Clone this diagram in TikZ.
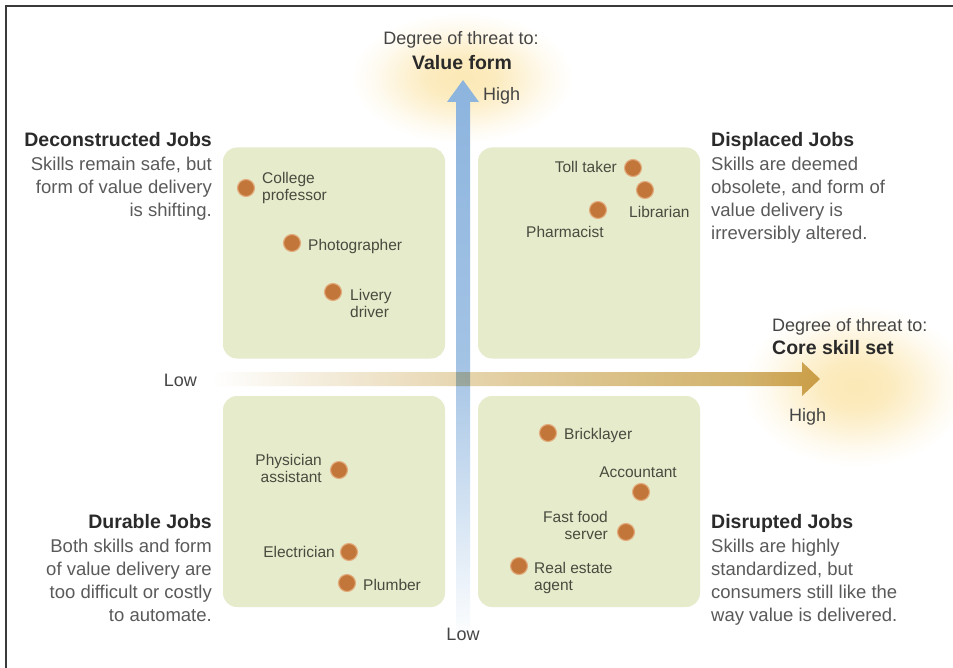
\documentclass[tikz,border=0pt]{standalone}
\usepackage{fontspec}
\setmainfont{Liberation Sans}
\usetikzlibrary{calc}

\definecolor{boxgreen}{HTML}{E6EBCC}
\definecolor{dotbrown}{HTML}{C3763A}
\definecolor{dotrim}{HTML}{E2AC7C}
\definecolor{axisblue}{HTML}{8CB4DE}
\definecolor{axistan}{HTML}{CDAA5C}
\definecolor{glowyellow}{HTML}{FBE6AE}
\definecolor{headtext}{HTML}{2A2A2A}
\definecolor{bodytext}{HTML}{5A5A5A}
\definecolor{axistext}{HTML}{454545}
\definecolor{jobtext}{HTML}{4A4A3E}
\definecolor{framegray}{HTML}{3A3A3A}

% soft radial glow; the filled path covers the inner 25bp radius
\pgfdeclareradialshading{softglow}{\pgfpoint{0bp}{0bp}}{%
  color(0bp)=(glowyellow!90!white);
  color(7bp)=(glowyellow!80!white);
  color(13bp)=(glowyellow!50!white);
  color(19bp)=(glowyellow!18!white);
  color(24bp)=(white);
  color(50bp)=(white)}

\begin{document}
\begin{tikzpicture}[x=1pt, y=-1pt,
  quadbox/.style={fill=boxgreen, rounded corners=14pt, inner sep=0pt,
                  minimum width=222pt, minimum height=211pt},
  jobdot/.style={circle, fill=dotbrown, draw=dotrim, line width=1.1pt,
                 minimum size=17pt, inner sep=0pt},
  joblabel/.style={font=\fontsize{15.5}{17}\selectfont, text=jobtext, inner sep=0pt},
  quadtitle/.style={font=\fontsize{19.5}{23}\bfseries\selectfont, text=headtext, inner sep=0pt},
  quadbody/.style={font=\fontsize{18.5}{23}\selectfont, text=bodytext, inner sep=0pt},
  axislabel/.style={font=\fontsize{18}{22}\selectfont, text=axistext, inner sep=0pt},
  axistitle/.style={font=\fontsize{19.5}{23}\bfseries\selectfont, text=headtext, inner sep=0pt},
  glowspot/.style={shading=softglow},
  vshade/.style={top color=axisblue, bottom color=white, middle color=axisblue!80!white},
  hshade/.style={left color=white, right color=axistan, middle color=axistan!60!white},
]
\useasboundingbox (0,0) rectangle (953,668);
\fill[white] (0,0) rectangle (953,668);

% frame
\draw[framegray, line width=1.8pt] (6,668) -- (6,6) -- (953,6);

% soft glows behind the axis titles
\shade[glowspot] (462,78) ellipse [x radius=115, y radius=68];
\shade[glowspot] (856,386) ellipse [x radius=118, y radius=84];

% quadrant panels
\node[quadbox] (qTL) at (334,253) {};
\node[quadbox] (qTR) at (589,253) {};
\node[quadbox] (qBL) at (334,501.5) {};
\node[quadbox] (qBR) at (589,501.5) {};

% vertical axis: value form
\coordinate (vbot) at (463,642);
\coordinate (vtop) at (463,80);
\path[vshade] ($(vbot)+(-7,0)$) -- ($(vtop)+(-7,22)$) -- ($(vtop)+(-16,22)$) -- (vtop)
  -- ($(vtop)+(16,22)$) -- ($(vtop)+(7,22)$) -- ($(vbot)+(7,0)$) -- cycle;

% horizontal axis: core skill set, multiplied over the vertical one
\coordinate (hleft) at (212,379);
\coordinate (hright) at (820,379);
\begin{scope}[blend mode=multiply]
\path[hshade] ($(hleft)+(0,-7)$) -- ($(hright)+(-18,-7)$) -- ($(hright)+(-18,-17)$)
  -- (hright) -- ($(hright)+(-18,17)$) -- ($(hright)+(-18,7)$) -- ($(hleft)+(0,7)$) -- cycle;
\end{scope}

% axis labels
\node[axislabel, anchor=base] (vdeg) at (461,45) {Degree of threat to:};
\node[axistitle, anchor=base] (vform) at (462,70) {Value form};
\node[axislabel, anchor=base west] (vhigh) at (483,101) {High};
\node[axislabel, anchor=base] (vlow) at (463,640) {Low};
\node[axislabel, anchor=base west] (hdeg) at (772,331) {Degree of threat to:};
\node[axistitle, anchor=base west] (hskill) at (772,354) {Core skill set};
\node[axislabel, anchor=base west] (hhigh) at (789,421) {High};
\node[axislabel, anchor=base east] (hlow) at (197,386) {Low};

% quadrant descriptions
\node[quadtitle, anchor=base east] (tDecon) at (212,147) {Deconstructed Jobs};
\node[quadbody, anchor=north east, align=right] (bDecon) at (212,156.5)
  {Skills remain safe, but\\form of value delivery\\is shifting.};
\node[quadtitle, anchor=base west] (tDispl) at (711,147) {Displaced Jobs};
\node[quadbody, anchor=north west, align=left] (bDispl) at (711,156.5)
  {Skills are deemed\\obsolete, and form of\\value delivery is\\irreversibly altered.};
\node[quadtitle, anchor=base east] (tDura) at (212,528) {Durable Jobs};
\node[quadbody, anchor=north east, align=right] (bDura) at (212,538.5)
  {Both skills and form\\of value delivery are\\too difficult or costly\\to automate.};
\node[quadtitle, anchor=base west] (tDisr) at (711,528) {Disrupted Jobs};
\node[quadbody, anchor=north west, align=left] (bDisr) at (711,538.5)
  {Skills are highly\\standardized, but\\consumers still like the\\way value is delivered.};

% deconstructed jobs
\node[jobdot] (college) at (246,188) {};
\node[joblabel, anchor=north west, align=left] (lcollege) at (262,172) {College\\professor};
\node[jobdot] (photo) at (292,243) {};
\node[joblabel, anchor=base west] (lphoto) at (308,251) {Photographer};
\node[jobdot] (livery) at (333,292) {};
\node[joblabel, anchor=north west, align=left] (llivery) at (350,289) {Livery\\driver};

% displaced jobs
\node[jobdot] (toll) at (633,168) {};
\node[joblabel, anchor=base east] (ltoll) at (617,173) {Toll taker};
\node[jobdot] (libr) at (645,190) {};
\node[joblabel, anchor=base west] (llibr) at (629,218) {Librarian};
\node[jobdot] (pharm) at (598,210) {};
\node[joblabel, anchor=base west] (lpharm) at (526,238) {Pharmacist};

% durable jobs
\node[jobdot] (phys) at (339,470) {};
\node[joblabel, anchor=north east, align=right] (lphys) at (322,454) {Physician\\assistant};
\node[jobdot] (elec) at (349,552) {};
\node[joblabel, anchor=base east] (lelec) at (335,557) {Electrician};
\node[jobdot] (plumb) at (347,583) {};
\node[joblabel, anchor=base west] (lplumb) at (363,590) {Plumber};

% disrupted jobs
\node[jobdot] (brick) at (548,433) {};
\node[joblabel, anchor=base west] (lbrick) at (564,439) {Bricklayer};
\node[jobdot] (acct) at (641,492) {};
\node[joblabel, anchor=base east] (lacct) at (677,477) {Accountant};
\node[jobdot] (fast) at (626,532) {};
\node[joblabel, anchor=north east, align=right] (lfast) at (608,511) {Fast food\\server};
\node[jobdot] (real) at (519,566) {};
\node[joblabel, anchor=north west, align=left] (lreal) at (534,562) {Real estate\\agent};
\end{tikzpicture}
\end{document}
